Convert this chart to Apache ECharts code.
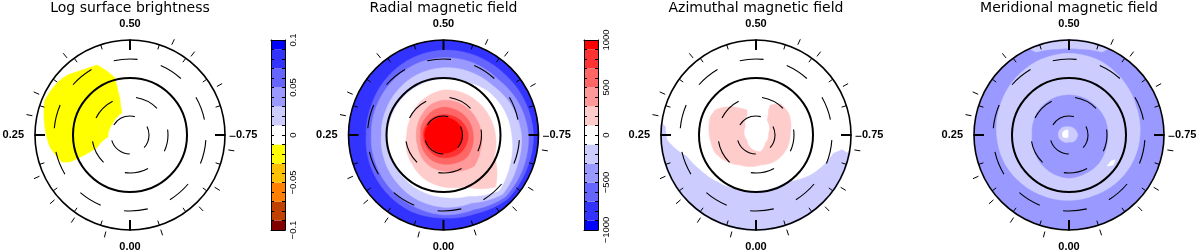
<!DOCTYPE html>
<html><head><meta charset="utf-8">
<script src="https://cdn.jsdelivr.net/npm/echarts/dist/echarts.min.js"></script>
<style>html,body{margin:0;padding:0;background:#fff;}#chart{width:1200px;height:251px;}</style>
</head><body><div id="chart"></div>
<script>
// ================= DATA =================
const panelTitles = ['Log surface brightness', 'Radial magnetic field', 'Azimuthal magnetic field', 'Meridional magnetic field'];
const cardinalPhases = [0, 0.25, 0.5, 0.75];
const obsPhases = [0.039, 0.094, 0.137, 0.182, 0.281, 0.317, 0.391, 0.569, 0.605, 0.669, 0.752, 0.774, 0.838, 0.878, 0.950];
const latCircles = [30, 60, 90, 120];          // colatitude (deg) of latitude circles +60,+30,0,-30
const latCircleSolid = [false, false, true, false];
const ringPhases = [0, 0.0625, 0.125, 0.1875, 0.25, 0.3125, 0.375, 0.4375, 0.5, 0.5625, 0.625, 0.6875, 0.75, 0.8125, 0.875, 0.9375];

// colour scales
const brightEdges = [-0.1, -0.09, -0.07, -0.05, -0.03, -0.01, 0.01, 0.03, 0.05, 0.07, 0.09, 0.1];
const brightColors = ['#800000', '#c04000', '#ff8000', '#ffc000', '#ffff00', '#ffffff', '#ccccff', '#9999ff', '#6666ff', '#3333ff', '#0000ff'];
const fieldEdges = [-1000, -900, -700, -500, -300, -100, 100, 300, 500, 700, 900, 1000];
const fieldColors = ['#0000ff', '#3333ff', '#6666ff', '#9999ff', '#ccccff', '#ffffff', '#ffcccc', '#ff9999', '#ff6666', '#ff3333', '#ff0000'];

// map 1: log surface brightness  (points are [colatitude, phase])
const brightBase = 0;
const brightSpotLevel = -0.02;
const brightSpot = [[122, 0.430], [93, 0.459], [57.5, 0.456], [37, 0.444], [32.8, 0.348], [34.9, 0.236], [56, 0.191], [77.7, 0.184], [103.9, 0.183], [115.6, 0.190], [127.7, 0.226], [134.8, 0.265], [145.1, 0.312], [143.4, 0.330], [141.2, 0.351], [136.3, 0.373]];

// map 2: radial field, iso-level boundaries (colatitude at ringPhases)
const radialBase = -800;
const radialLevels = [-600, -400, -200, 0, 200, 400, 600, 800, 1000];
const radialContours = [
  [131, 131, 128, 125, 122, 123, 127, 131, 134, 135, 136, 139, 142, 142, 143, 134],
  [126, 122, 119, 116, 114, 115, 117, 120, 122, 123, 123, 129, 134, 136, 138, 127],
  [114, 110, 105, 101, 98, 99, 101, 104, 106, 108, 110, 117, 123, 126, 132, 116],
  [98, 95, 92, 89, 88, 87, 87, 87, 88, 90, 98, 103, 107, 114, 124, 104],
  [82, 76, 68, 63, 58, 58, 62, 66, 71, 73, 75, 78, 82, 87, 116, 88],
  [57, 54, 49, 44, 43, 44, 47, 52, 55, 56, 57, 58, 60, 63, 69, 62],
  [46, 44, 41, 38, 36, 38, 39, 42, 44, 44, 45, 46, 47, 49, 51, 48],
  [36, 35, 33, 32, 32, 32, 32, 32, 32, 33, 35, 37, 39, 39, 39, 37],
  [29, 28, 28, 29, 30, 29, 28, 28, 28, 28, 29, 30, 30, 30, 30, 29]
];

// map 3: azimuthal field
const azimBase = 0;
const azimPinkLevel = 200;
const azimPink = [[42, 0.445], [49, 0.415], [75.5, 0.338], [77.7, 0.311], [72.6, 0.233], [70.4, 0.183], [62.2, 0.132], [53.5, 0.077], [47.8, -0.023], [51.5, -0.111], [53.2, -0.186], [54.2, -0.258], [61.9, -0.343], [62.7, -0.391], [52.4, -0.429], [44.2, -0.426], [29.4, -0.399], [20, -0.271], [19.7, -0.134], [27.2, -0.04], [24, 0.025], [16.3, 0.169], [21.3, 0.355], [34.6, 0.433]];
const azimBlueLevel = -200;
const azimBlue = [[143.8, 0.265], [140.7, 0.241], [127, 0.22], [114.2, 0.202], [103.9, 0.161], [96, 0.11], [90.3, 0.044], [88.4, -0.031], [88.4, -0.093], [109.3, -0.157], [114.3, -0.175], [125.8, -0.213], [137.8, -0.223], [146.5, -0.219], [151, -0.225], [151, 0.27]];

// map 4: meridional field
const meridBase = -400;
const meridLevels = [-200, -400, -200];
const meridContours = [
  [103, 104, 107, 111, 114, 118, 123, 127, 129, 127, 121, 115, 112, 109, 106, 103],
  [68, 66, 63, 60, 58, 60, 62, 63, 63, 63, 62, 62, 61, 62, 65, 66],
  [11, 13, 14, 16, 17, 17, 16, 14, 13, 13, 13, 13, 14, 13, 13, 12]
];
const meridPatchLevels = [-200, 0, 0];
const meridPatches = [
  [[151, 0.43], [151, 0.57], [141, 0.56], [137, 0.52], [137, 0.48], [141, 0.44]],
  [[8, 0.469], [10.6, 0.324], [10, 0.199], [3.5, 0.074]],
  [[77.4, 0.859], [78, 0.838], [82.7, 0.829], [84.2, 0.845]]
];

// ================= LAYOUT / STYLE =================
const centers = [[130, 135], [443.5, 135], [756, 135], [1069, 135]];
const R = 95;
const cbLeft = [271, 584];
const ringDash = [[24, 16], [24, 24], null, [24, 24]];
const ringDashOffset = [10.15, 7.2, 0, 42.8];

// ================= BUILD =================
function colorOf(v, edges, colors) {
  for (let i = 0; i < colors.length; i++) if (v >= edges[i] && v < edges[i + 1]) return colors[i];
  return colors[colors.length - 1];
}
function starPts(cols) {
  const p = cols.map((c, k) => [c, ringPhases[k]]);
  p.push([cols[0], 1]);
  return p;
}
const mapRegions = [
  [{lvl: brightBase, disc: true}, {lvl: brightSpotLevel, pts: brightSpot}],
  [{lvl: radialBase, disc: true}].concat(radialLevels.map((l, k) => ({lvl: l, pts: starPts(radialContours[k])}))),
  [{lvl: azimBase, disc: true}, {lvl: azimBlueLevel, pts: azimBlue}, {lvl: azimPinkLevel, pts: azimPink}],
  [{lvl: meridBase, disc: true}].concat(meridLevels.map((l, k) => ({lvl: l, pts: starPts(meridContours[k])})))
    .concat(meridPatchLevels.map((l, k) => ({lvl: l, pts: meridPatches[k]})))
];
const palettes = [[brightEdges, brightColors], [fieldEdges, fieldColors], [fieldEdges, fieldColors], [fieldEdges, fieldColors]];

function normP(p) { return ((p % 1) + 1) % 1; }
function polyPoints(api, pts) {
  const out = [];
  for (let i = 0; i < pts.length - 1; i++) {
    const a = pts[i], b = pts[i + 1];
    const n = Math.max(1, Math.ceil(Math.abs(b[1] - a[1]) / 0.004));
    for (let j = 0; j < n; j++) {
      const t = j / n;
      out.push(api.coord([a[0] + (b[0] - a[0]) * t, normP(a[1] + (b[1] - a[1]) * t)]));
    }
  }
  const l = pts[pts.length - 1];
  out.push(api.coord([l[0], normP(l[1])]));
  return out;
}
function mapRender(regs, pal) {
  return function (params, api) {
    const reg = regs[params.dataIndex];
    const cs = params.coordSys;
    const fill = colorOf(reg.lvl, pal[0], pal[1]);
    if (reg.disc) {
      const p = api.coord([150, 0]);
      const r = Math.hypot(p[0] - cs.cx, p[1] - cs.cy);
      return {type: 'circle', shape: {cx: cs.cx, cy: cs.cy, r: r}, style: {fill: fill}};
    }
    return {type: 'polygon', shape: {points: polyPoints(api, reg.pts)}, style: {fill: fill, stroke: fill, lineWidth: 0.6}};
  };
}
function ringRender(params, api) {
  const cs = params.coordSys;
  const p = api.coord([api.value(0), 0]);
  const r = Math.hypot(p[0] - cs.cx, p[1] - cs.cy);
  const k = params.dataIndex;
  const solid = latCircleSolid[k];
  return {type: 'circle', shape: {cx: cs.cx, cy: cs.cy, r: r},
    style: {fill: 'none', stroke: '#000', lineWidth: solid ? 2 : 1.1, lineDash: solid ? null : ringDash[k], lineDashOffset: ringDashOffset[k]}};
}
function tickRender(inner, outer, width) {
  return function (params, api) {
    const cs = params.coordSys;
    const p = api.coord([api.value(0), api.value(1)]);
    const dx = p[0] - cs.cx, dy = p[1] - cs.cy, d = Math.hypot(dx, dy);
    const ux = dx / d, uy = dy / d;
    return {type: 'line', shape: {x1: cs.cx + ux * (d + inner), y1: cs.cy + uy * (d + inner), x2: cs.cx + ux * (d + outer), y2: cs.cy + uy * (d + outer)},
      style: {stroke: '#000', lineWidth: width}};
  };
}
function phaseLabel(v) {
  if (v > 0.999) return '';
  const q = v * 4;
  return Math.abs(q - Math.round(q)) < 1e-6 ? v.toFixed(2) : '';
}
function fmtBright(v) {
  const k = Math.round(v * 100);
  if (k % 5 !== 0) return '';
  if (k === 0) return '0';
  return (k < 0 ? '\u2212' : '') + (Math.abs(k) / 100).toString();
}
function fmtField(v) {
  const k = Math.round(v);
  if (k % 500 !== 0) return '';
  return k < 0 ? '\u2212' + (-k) : String(k);
}

const series = [];
mapRegions.forEach((regs, i) => {
  series.push({type: 'custom', coordinateSystem: 'polar', polarIndex: i, silent: true, z: 2,
    data: regs.map(() => [0, 0]), renderItem: mapRender(regs, palettes[i])});
  series.push({type: 'custom', coordinateSystem: 'polar', polarIndex: i, silent: true, z: 3,
    data: latCircles.map(c => [c, 0]), renderItem: ringRender});
  series.push({type: 'custom', coordinateSystem: 'polar', polarIndex: i, silent: true, z: 12,
    data: cardinalPhases.map(p => [150, p]), renderItem: tickRender(-10, 0.5, 2)});
  series.push({type: 'custom', coordinateSystem: 'polar', polarIndex: i, silent: true, z: 12,
    data: obsPhases.map(p => [150, p]), renderItem: tickRender(4.5, 10.5, 1)});
});
[[brightEdges, brightColors], [fieldEdges, fieldColors]].forEach((pal, j) => {
  series.push({type: 'custom', coordinateSystem: 'cartesian2d', xAxisIndex: 2 * j, yAxisIndex: 2 * j, silent: true, z: 2,
    encode: {x: 0, y: [1, 2]},
    data: pal[1].map((c, k) => [0, pal[0][k], pal[0][k + 1], k]),
    renderItem: function (params, api) {
      const a = api.coord([0, api.value(2)]);
      const b = api.coord([1, api.value(1)]);
      return {type: 'rect', shape: {x: a[0], y: a[1], width: b[0] - a[0], height: b[1] - a[1]}, style: {fill: pal[1][api.value(3)]}};
    }});
});

const lineBlack = {show: true, onZero: false, lineStyle: {color: '#000', width: 1}};
const xAxis = [], yAxis = [];
cbLeft.forEach((x, j) => {
  ['bottom', 'top'].forEach(pos => xAxis.push({gridIndex: j, type: 'value', min: 0, max: 1, position: pos, z: 10,
    axisLine: lineBlack, axisTick: {show: false}, axisLabel: {show: false}, splitLine: {show: false}}));
  const lim = j === 0 ? 0.1 : 1000;
  const iv = j === 0 ? 0.01 : 100;
  ['left', 'right'].forEach(pos => yAxis.push({gridIndex: j, type: 'value', min: -lim, max: lim, interval: iv, position: pos, z: 10,
    axisLine: lineBlack, axisTick: {show: true, inside: true, length: 3, lineStyle: {color: '#000', width: 1}},
    axisLabel: {show: pos === 'right', rotate: 90, margin: 3, fontSize: 9.5, fontFamily: 'Liberation Sans', color: '#000',
      formatter: j === 0 ? fmtBright : fmtField},
    splitLine: {show: false}}));
});

const option = {
  animation: false,
  backgroundColor: '#ffffff',
  polar: centers.map(c => ({center: c, radius: R})),
  angleAxis: centers.map((c, i) => ({polarIndex: i, type: 'value', min: 0, max: 1, interval: 0.05, startAngle: 270, clockwise: true, z: 10,
    axisLine: {show: true, lineStyle: {color: '#000', width: 1.6}},
    axisTick: {show: true, inside: true, length: 5, lineStyle: {color: '#000', width: 1}},
    axisLabel: {show: true, margin: 11, formatter: phaseLabel, color: '#000', fontSize: 11, fontWeight: 'bold', fontFamily: 'Liberation Sans'},
    splitLine: {show: false}, splitArea: {show: false}})),
  radiusAxis: centers.map((c, i) => ({polarIndex: i, type: 'value', min: 0, max: 150,
    axisLine: {show: false}, axisTick: {show: false}, axisLabel: {show: false}, splitLine: {show: false}, splitArea: {show: false}})),
  grid: cbLeft.map(x => ({left: x, top: 40, width: 14, height: 190})),
  xAxis: xAxis,
  yAxis: yAxis,
  graphic: panelTitles.map((t, i) => ({type: 'text', x: centers[i][0], y: 1, silent: true,
    style: {text: t, fill: '#000', font: '14px "DejaVu Sans"', textAlign: 'center', textVerticalAlign: 'top', align: 'center', verticalAlign: 'top'}})),
  series: series
};
const chart = echarts.init(document.getElementById('chart'), null, {renderer: 'canvas', width: 1200, height: 251});
chart.setOption(option);
</script></body></html>
